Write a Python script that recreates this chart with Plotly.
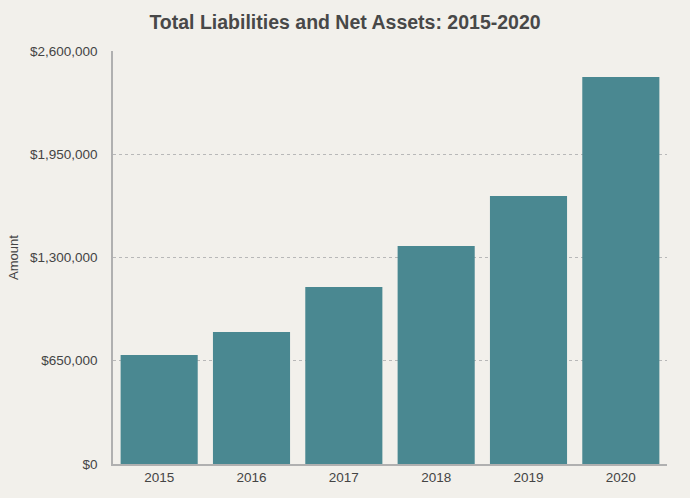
import plotly.graph_objects as go

years = ["2015", "2016", "2017", "2018", "2019", "2020"]
amounts = [686000, 831000, 1114000, 1372000, 1687000, 2436000]
tick_vals = [0, 650000, 1300000, 1950000, 2600000]
tick_text = ["$0", "$650,000", "$1,300,000", "$1,950,000", "$2,600,000"]

fig = go.Figure(go.Bar(x=years, y=amounts, marker=dict(color="#4a8891", line=dict(width=0)),
                       hoverinfo="skip"))

fig.update_layout(
    width=690, height=498,
    paper_bgcolor="#f2f0eb", plot_bgcolor="#f2f0eb",
    margin=dict(l=113, r=23, t=51, b=34),
    bargap=0.165,
    showlegend=False,
    font=dict(family="Liberation Sans, Arial, sans-serif", color="#444444", size=13),
    title=dict(text="<b>Total Liabilities and Net Assets: 2015-2020</b>", x=0.5, xanchor="center",
               y=0.955, yanchor="middle",
               font=dict(size=19.5, color="#484848", family="Liberation Sans, Arial, sans-serif")),
)
fig.update_xaxes(showgrid=False, showline=True, linecolor="#b0b0b0", linewidth=1.5,
                 ticks="", tickfont=dict(size=13.5, color="#444444"))
fig.update_yaxes(range=[0, 2600000], tickvals=tick_vals, ticktext=tick_text,
                 showgrid=True, gridcolor="#b8b8b8", griddash="dot", gridwidth=1,
                 showline=True, linecolor="#b0b0b0", linewidth=1.5, zeroline=False,
                 ticks="", ticklabelstandoff=11, tickfont=dict(size=13.5, color="#444444"),
                 title=dict(text="Amount", font=dict(size=13, color="#444444"), standoff=8))

fig.write_html("out.html", config={"displayModeBar": False},
               post_script="document.body.style.margin='0';document.body.style.background='#f2f0eb';")
